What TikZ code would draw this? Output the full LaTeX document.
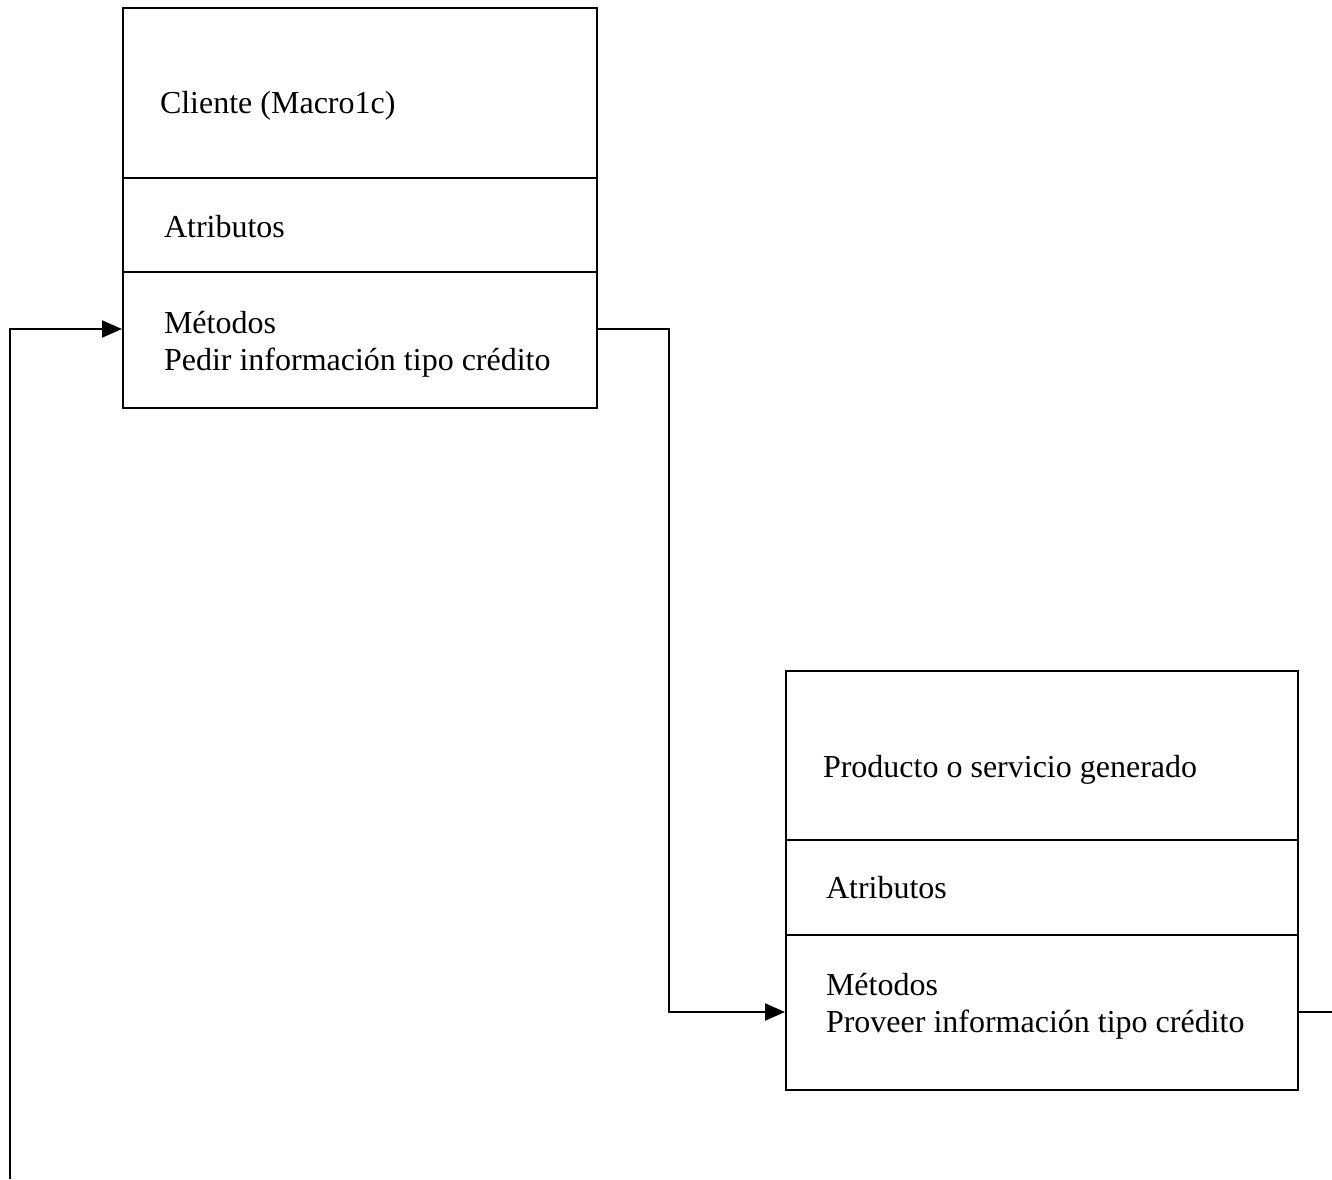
\documentclass[tikz,border=0pt]{standalone}
\usepackage{fontspec}
\setmainfont{Liberation Serif}
\usetikzlibrary{arrows.meta}
\begin{document}
\begin{tikzpicture}[x=1pt,y=-1pt,
  line width=2pt,
  classbox/.style={draw, rectangle, inner sep=0pt, anchor=north west},
  lbl/.style={anchor=base west, inner sep=0pt, font=\fontsize{32}{37}\selectfont},
  flow/.style={-{Triangle[length=20pt,width=17pt]}},
  link/.style={}]
\useasboundingbox (0,0) rectangle (1332,1179);

% Class: Cliente
\node[classbox, minimum width=474pt, minimum height=400pt] (cli) at (122,7) {};
\draw (122,178) -- (596,178);
\draw (122,272) -- (596,272);
\node[lbl] (cliname) at (159,113) {Cliente (Macro1c)};
\node[lbl] (cliattr) at (163,237) {Atributos};
\node[lbl] (climet) at (163,333) {Métodos};
\node[lbl] (cliop) at (163,370) {Pedir información tipo crédito};

% Class: Producto o servicio generado
\node[classbox, minimum width=512pt, minimum height=419pt] (prod) at (785,670) {};
\draw (785,840) -- (1297,840);
\draw (785,935) -- (1297,935);
\node[lbl] (prodname) at (822,777) {Producto o servicio generado};
\node[lbl] (prodattr) at (825,898) {Atributos};
\node[lbl] (prodmet) at (825,995) {Métodos};
\node[lbl] (prodop) at (825,1032) {Proveer información tipo crédito};

% Connector ports
\coordinate (cliin) at (122,329);
\coordinate (cliout) at (596,329);
\coordinate (prodin) at (785,1012);
\coordinate (prodout) at (1297,1012);
\coordinate (bend) at (669,1012);
\coordinate (retstart) at (10,1179);
\coordinate (exitend) at (1332,1012);

% Connectors
\draw[flow] (cliout) -| (bend) -- (prodin);
\draw[link] (prodout) -- (exitend);
\draw[flow] (retstart) |- (cliin);
\end{tikzpicture}
\end{document}
